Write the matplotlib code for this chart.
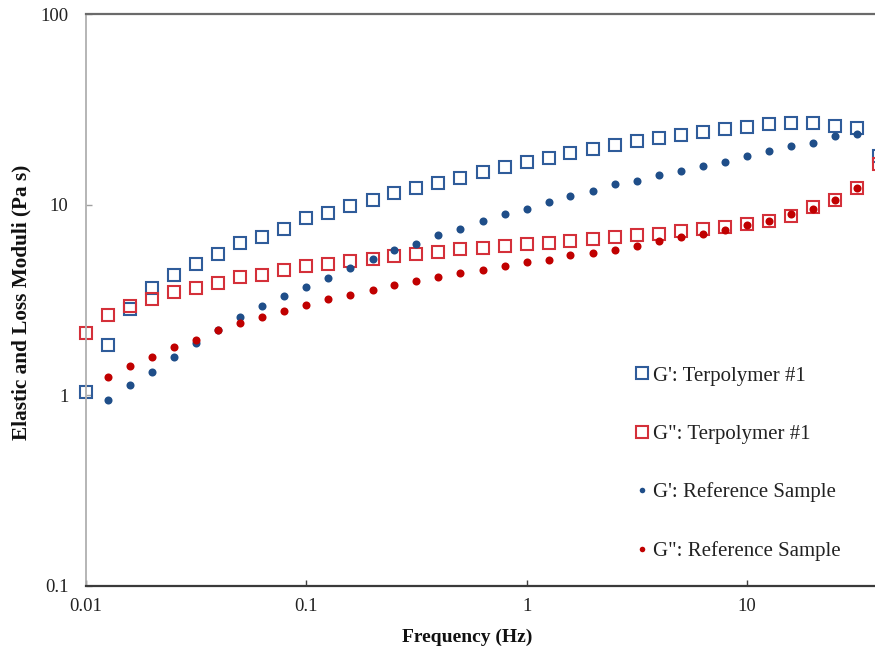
import matplotlib
matplotlib.use("Agg")
import matplotlib.pyplot as plt

plt.rcParams['font.family'] = ['Liberation Serif', 'DejaVu Serif']

# frequency sweep points (Hz), 10 per decade
freq = [0.01, 0.0126, 0.0158, 0.02, 0.0251, 0.0316, 0.0398, 0.0501, 0.0631, 0.0794,
        0.1, 0.126, 0.158, 0.2, 0.251, 0.316, 0.398, 0.501, 0.631, 0.794,
        1, 1.26, 1.58, 2, 2.51, 3.16, 3.98, 5.01, 6.31, 7.94,
        10, 12.6, 15.8, 20, 25.1, 31.6, 39.8]

# terpolymer #1 (all 37 points)
g1_terp = [1.04, 1.83, 2.85, 3.67, 4.27, 4.87, 5.54, 6.3, 6.8, 7.5,
           8.5, 9.0, 9.8, 10.6, 11.5, 12.2, 13.0, 13.9, 14.8, 15.7,
           16.7, 17.5, 18.6, 19.6, 20.5, 21.5, 22.3, 23.2, 24.0, 24.9,
           25.5, 26.5, 26.8, 26.8, 25.8, 25.2, 18.0]
g2_terp = [2.11, 2.63, 2.93, 3.19, 3.49, 3.67, 3.89, 4.18, 4.27, 4.57,
           4.77, 4.91, 5.05, 5.22, 5.39, 5.54, 5.65, 5.89, 5.96, 6.06,
           6.2, 6.3, 6.46, 6.65, 6.78, 6.92, 7.06, 7.26, 7.43, 7.65,
           7.97, 8.22, 8.70, 9.73, 10.6, 12.2, 16.4]

# reference sample (starts at the second frequency)
freq_ref = freq[1:36]
g1_ref = [0.94, 1.13, 1.32, 1.59, 1.87, 2.19, 2.58, 2.93, 3.31,
          3.70, 4.15, 4.68, 5.22, 5.77, 6.26, 6.98, 7.50, 8.19, 8.91,
          9.55, 10.3, 11.1, 11.8, 12.8, 13.4, 14.3, 15.0, 16.0, 16.8,
          18.0, 19.1, 20.3, 21.1, 22.9, 23.6]
g2_ref = [1.25, 1.42, 1.59, 1.79, 1.96, 2.19, 2.40, 2.56, 2.77,
          2.99, 3.19, 3.38, 3.56, 3.81, 3.97, 4.18, 4.38, 4.53, 4.77,
          4.99, 5.16, 5.43, 5.61, 5.82, 6.06, 6.43, 6.78, 7.06, 7.41,
          7.87, 8.19, 8.99, 9.55, 10.6, 12.2]

labels = ["G': Terpolymer #1", 'G": Terpolymer #1',
          "G': Reference Sample", 'G": Reference Sample']

fig = plt.figure(figsize=(8.75, 6.51), dpi=100)
# plot area runs past the right edge of the picture, as in the original
ax = fig.add_axes([0.0983, 0.1003, 0.9315, 0.8777])

ax.plot(freq, g1_terp, 's', ms=8.6, mfc='none', mec='#2f5c9a', mew=1.5, clip_on=False, label=labels[0])
ax.plot(freq, g2_terp, 's', ms=8.6, mfc='none', mec='#d4303a', mew=1.5, clip_on=False, label=labels[1])
ax.plot(freq_ref, g1_ref, 'o', ms=5.8, color='#1f4e89', mec='none', clip_on=False, label=labels[2])
ax.plot(freq_ref, g2_ref, 'o', ms=5.8, color='#c00000', mec='none', clip_on=False, label=labels[3])

ax.set_xscale('log')
ax.set_yscale('log')
ax.set_xlim(0.01, 50.1)
ax.set_ylim(0.1, 100)

ax.set_xticks([0.01, 0.1, 1, 10])
ax.set_xticklabels(['0.01', '0.1', '1', '10'])
ax.set_yticks([0.1, 1, 10, 100])
ax.set_yticklabels(['0.1', '1', '10', '100'])
ax.minorticks_off()
ax.tick_params(axis='x', direction='in', length=4, width=1, color='#404040', pad=8.5, labelsize=13.5, labelcolor='#222222')
ax.tick_params(axis='y', direction='in', length=4, width=1, color='#a0a0a0', pad=12.5, labelsize=13.5, labelcolor='#222222')

ax.spines['right'].set_visible(False)
ax.spines['top'].set_color('#6a6a6a')
ax.spines['top'].set_linewidth(1.6)
ax.spines['left'].set_color('#b0b0b0')
ax.spines['left'].set_linewidth(1.3)
ax.spines['bottom'].set_color('#3a3a3a')
ax.spines['bottom'].set_linewidth(1.6)

fig.text(467 / 875, 1 - 637 / 651, 'Frequency (Hz)', ha='center', va='center',
         fontsize=14, fontweight='bold', color='#111111')
fig.text(21 / 875, 1 - 302 / 651, 'Elastic and Loss Moduli (Pa s)', ha='center', va='center',
         rotation=90, fontsize=15.3, fontweight='bold', color='#111111')

leg = fig.legend(loc='center left', bbox_to_anchor=(634 / 875, 1 - 463.5 / 651),
                 frameon=False, fontsize=15, labelspacing=1.85, handlelength=0.8,
                 handletextpad=0.1, borderpad=0, borderaxespad=0)
for h in leg.legend_handles[:2]:
    h.set_markersize(8)
for h in leg.legend_handles[2:]:
    h.set_markersize(4)
for t in leg.get_texts():
    t.set_color('#222222')

fig.savefig('out.png', dpi=100)
